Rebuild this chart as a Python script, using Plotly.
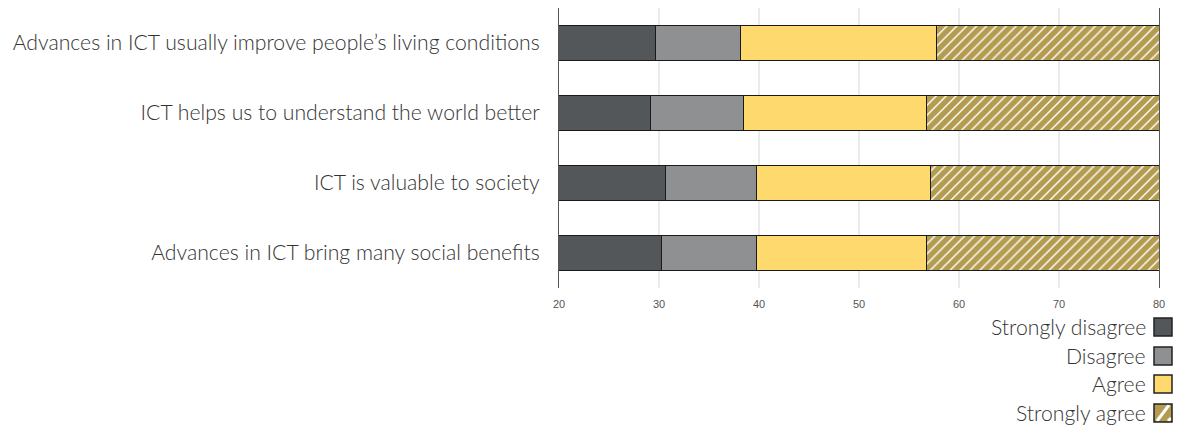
import plotly.graph_objects as go

categories = [
    "Advances in ICT usually improve people’s living conditions",
    "ICT helps us to understand the world better",
    "ICT is valuable to society",
    "Advances in ICT bring many social benefits",
]
series_names = ["Strongly disagree", "Disagree", "Agree", "Strongly agree"]
strongly_disagree = [29.6, 29.1, 30.6, 30.2]
disagree = [8.5, 9.3, 9.1, 9.5]
agree = [19.6, 18.3, 17.4, 17.0]
strongly_agree = [42.3, 43.3, 42.9, 43.3]
x_ticks = [20, 30, 40, 50, 60, 70, 80]

# the page body adds an 8px margin, so the figure is a bit smaller than the window
OFF = 8
W, H = 1183 - OFF, 428 - OFF
L, R, T, B = 559 - OFF, 24, 0, 140

colors = ["#53575a", "#8f9091", "#fed96d", "#b39c4f"]
values = [strongly_disagree, disagree, agree, strongly_agree]

fig = go.Figure()
for name, vals, col in zip(series_names, values, colors):
    pattern = None
    if name == "Strongly agree":
        pattern = dict(shape="/", fgcolor="white", bgcolor=col, size=7, solidity=0.2, fillmode="replace")
    fig.add_trace(
        go.Bar(
            y=categories,
            x=vals,
            name=name,
            orientation="h",
            marker=dict(color=col, line=dict(color="#1a1a1a", width=1), pattern=pattern),
            showlegend=False,
        )
    )

label_font = dict(family="Lato Light, Lato", size=21.2, color="#333333", weight=300)

fig.update_layout(
    width=W,
    height=H,
    barmode="stack",
    bargap=0.49,
    margin=dict(l=L, r=R, t=T, b=B),
    plot_bgcolor="white",
    paper_bgcolor="white",
    font=label_font,
)
fig.update_xaxes(
    range=[20, 80],
    tickvals=x_ticks,
    showgrid=True,
    gridcolor="#ebebeb",
    gridwidth=2,
    zeroline=False,
    showline=False,
    ticks="outside",
    ticklen=6,
    tickcolor="rgba(0,0,0,0)",
    tickfont=dict(family="Liberation Sans", size=11, color="#555555"),
)
fig.update_yaxes(
    categoryorder="array",
    categoryarray=categories,
    autorange="reversed",
    showline=True,
    mirror=True,
    linecolor="#555555",
    linewidth=1,
    showgrid=False,
    ticks="outside",
    ticklen=14,
    tickcolor="rgba(0,0,0,0)",
    tickfont=label_font,
)

# manual legend: text on the left, swatch on the right (page pixels)
plot_w = W - L - R
plot_h = H - T - B
plot_bottom = 288
text_right_px = 1148
swatch_x0, swatch_x1 = 1154 - 1159, 1172 - 1159
row_tops = [318, 347, 375, 404]
for name, col, top in zip(series_names, colors, row_tops):
    y0 = plot_bottom - (top + 18)
    y1 = plot_bottom - top
    fig.add_annotation(
        x=(text_right_px - 559) / plot_w,
        y=(plot_bottom - (top + 9)) / plot_h,
        xref="paper",
        yref="paper",
        text=name,
        showarrow=False,
        xanchor="right",
        yanchor="middle",
        font=label_font,
    )
    fig.add_shape(
        type="rect",
        xref="paper", yref="paper",
        xsizemode="pixel", ysizemode="pixel",
        xanchor=1, yanchor=0,
        x0=swatch_x0, x1=swatch_x1, y0=y0, y1=y1,
        fillcolor=col,
        line=dict(width=0),
        layer="above",
    )
    if name == "Strongly agree":
        stripes = [(3, 1, 15, 17), (14, 1, 17, 4)]
        for sx0, sy0, sx1, sy1 in stripes:
            fig.add_shape(
                type="line",
                xref="paper", yref="paper",
                xsizemode="pixel", ysizemode="pixel",
                xanchor=1, yanchor=0,
                x0=swatch_x0 + sx0, x1=swatch_x0 + sx1,
                y0=y0 + sy0, y1=y0 + sy1,
                line=dict(color="white", width=3),
                layer="above",
            )
    fig.add_shape(
        type="rect",
        xref="paper", yref="paper",
        xsizemode="pixel", ysizemode="pixel",
        xanchor=1, yanchor=0,
        x0=swatch_x0, x1=swatch_x1, y0=y0, y1=y1,
        fillcolor="rgba(0,0,0,0)",
        line=dict(color="#222222", width=1.5),
        layer="above",
    )

fig.write_html("out.html")
